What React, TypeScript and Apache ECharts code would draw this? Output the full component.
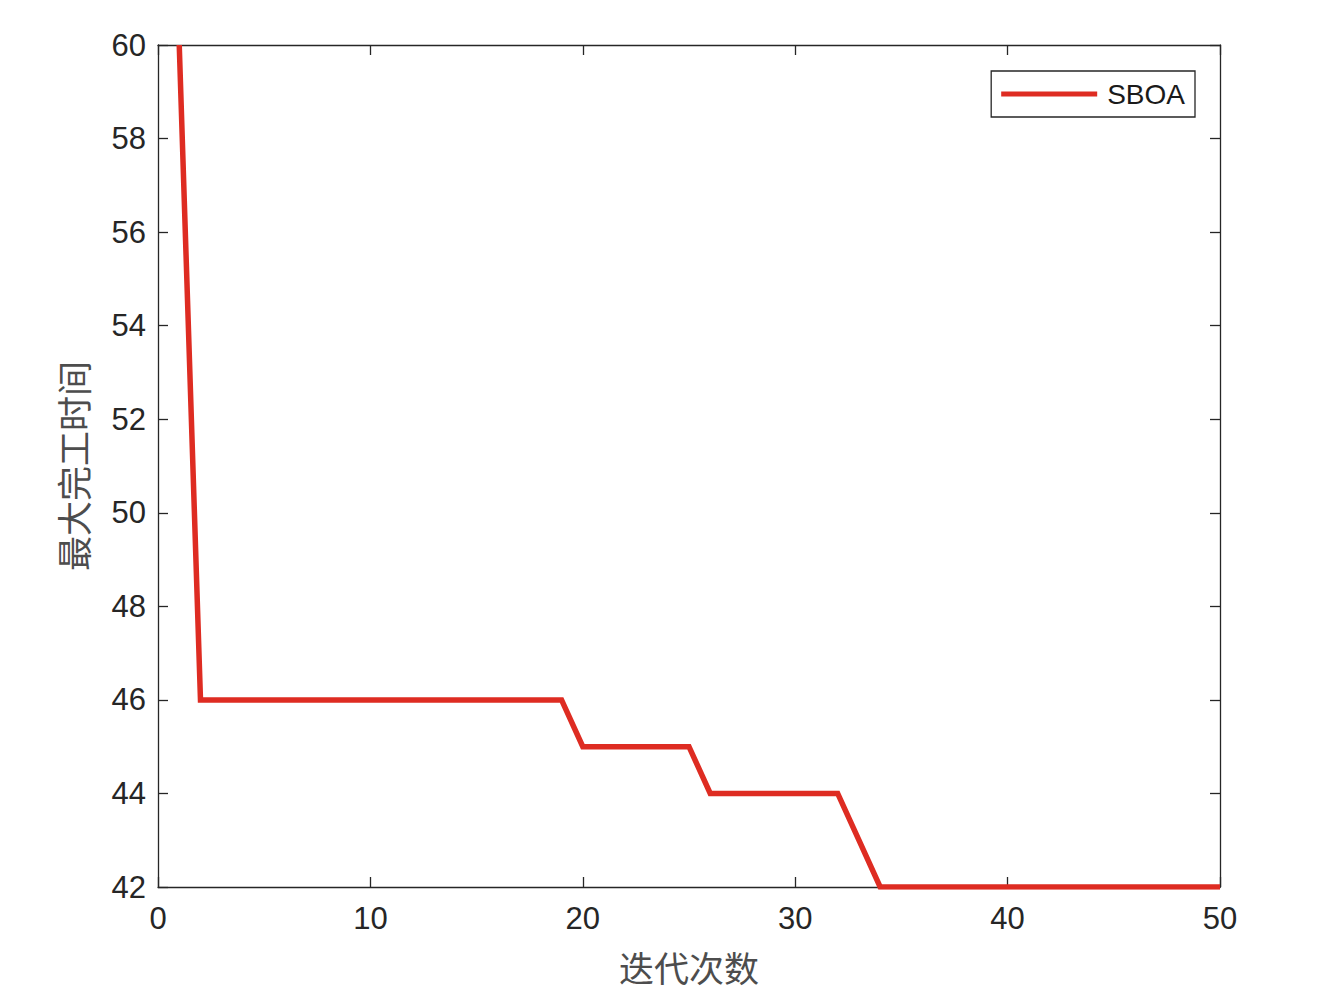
import React, { useEffect, useRef } from "react";
import * as echarts from "echarts";

const iterations = [
  1, 2, 3, 4, 5, 6, 7, 8, 9, 10, 11, 12, 13, 14, 15, 16, 17, 18, 19, 20, 21, 22, 23, 24, 25,
  26, 27, 28, 29, 30, 31, 32, 33, 34, 35, 36, 37, 38, 39, 40, 41, 42, 43, 44, 45, 46, 47, 48, 49, 50,
];
const sboaValues = [
  60, 46, 46, 46, 46, 46, 46, 46, 46, 46, 46, 46, 46, 46, 46, 46, 46, 46, 46, 45, 45, 45, 45, 45, 45,
  44, 44, 44, 44, 44, 44, 44, 43, 42, 42, 42, 42, 42, 42, 42, 42, 42, 42, 42, 42, 42, 42, 42, 42, 42,
];
const seriesName = "SBOA";
const xName = "迭代次数";
const yName = "最大完工时间";

const axisColor = "#262626";
const tickFont = "'Liberation Sans', Arial, Helvetica, sans-serif";
const cjkFont = "'Noto Sans CJK SC', sans-serif";

export default function App() {
  const ref = useRef<HTMLDivElement>(null);
  useEffect(() => {
    if (!ref.current) return;
    const chart = echarts.init(ref.current, null, { renderer: "svg" });
    const tick = { show: true, inside: true, length: 10, lineStyle: { color: axisColor, width: 1.3 } };
    const line = { show: true, onZero: false, lineStyle: { color: axisColor, width: 1.3 } };
    chart.setOption({
      animation: false,
      backgroundColor: "#ffffff",
      grid: { left: 158, right: 106, top: 45, bottom: 119, containLabel: false },
      legend: {
        data: [seriesName],
        right: 131,
        top: 71,
        orient: "vertical",
        icon: "rect",
        itemWidth: 96,
        itemHeight: 5,
        padding: [9, 10, 9, 10],
        borderColor: axisColor,
        borderWidth: 1.3,
        backgroundColor: "#ffffff",
        textStyle: { fontFamily: tickFont, fontSize: 28, color: "#1a1a1a", padding: [0, 0, 0, 5] },
      },
      xAxis: [
        {
          type: "value",
          min: 0,
          max: 50,
          interval: 10,
          position: "bottom",
          name: xName,
          nameLocation: "middle",
          nameGap: 62,
          nameTextStyle: { fontFamily: cjkFont, fontSize: 35, color: "#4d4d4d" },
          axisLine: line,
          axisTick: tick,
          splitLine: { show: false },
          axisLabel: { fontFamily: tickFont, fontSize: 31, color: axisColor, margin: 16 },
        },
        {
          type: "value",
          min: 0,
          max: 50,
          interval: 10,
          position: "top",
          axisLine: line,
          axisTick: tick,
          splitLine: { show: false },
          axisLabel: { show: false },
        },
      ],
      yAxis: [
        {
          type: "value",
          min: 42,
          max: 60,
          interval: 2,
          position: "left",
          name: yName,
          nameLocation: "middle",
          nameGap: 68,
          nameRotate: 90,
          nameTextStyle: { fontFamily: cjkFont, fontSize: 35, color: "#4d4d4d" },
          axisLine: line,
          axisTick: tick,
          splitLine: { show: false },
          axisLabel: { fontFamily: tickFont, fontSize: 31, color: axisColor, margin: 12 },
        },
        {
          type: "value",
          min: 42,
          max: 60,
          interval: 2,
          position: "right",
          axisLine: line,
          axisTick: tick,
          splitLine: { show: false },
          axisLabel: { show: false },
        },
      ],
      series: [
        {
          name: seriesName,
          type: "line",
          xAxisIndex: 0,
          yAxisIndex: 0,
          data: iterations.map((x, i) => [x, sboaValues[i]]),
          showSymbol: false,
          symbol: "none",
          lineStyle: { color: "#de2c22", width: 5.5, join: "miter" },
          itemStyle: { color: "#de2c22" },
          clip: true,
        },
      ],
    });
    return () => chart.dispose();
  }, []);
  return (
    <div
      ref={ref}
      style={{ position: "absolute", left: 0, top: 0, width: 1326, height: 1006, background: "#fff" }}
    />
  );
}
